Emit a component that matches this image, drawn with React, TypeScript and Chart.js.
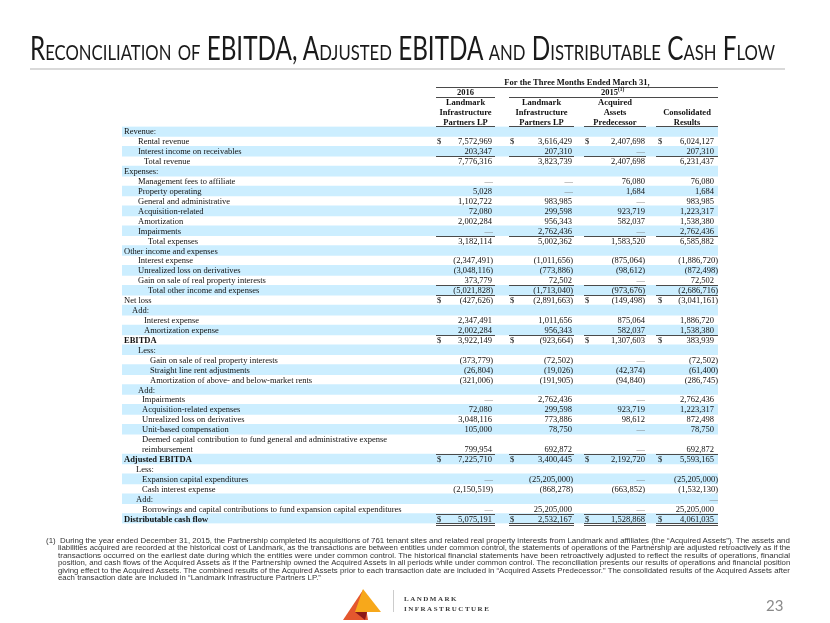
import React, { useEffect, useLayoutEffect, useRef } from "react";
import { Chart, registerables } from "chart.js";

Chart.register(...registerables);

// ---------------- data ----------------
const rowLabels: string[] = [
  "Revenue:",
  "Rental revenue",
  "Interest income on receivables",
  "Total revenue",
  "Expenses:",
  "Management fees to affiliate",
  "Property operating",
  "General and administrative",
  "Acquisition-related",
  "Amortization",
  "Impairments",
  "Total expenses",
  "Other income and expenses",
  "Interest expense",
  "Unrealized loss on derivatives",
  "Gain on sale of real property interests",
  "Total other income and expenses",
  "Net loss",
  "Add:",
  "Interest expense",
  "Amortization expense",
  "EBITDA",
  "Less:",
  "Gain on sale of real property interests",
  "Straight line rent adjustments",
  "Amortization of above- and below-market rents",
  "Add:",
  "Impairments",
  "Acquisition-related expenses",
  "Unrealized loss on derivatives",
  "Unit-based compensation",
  "Deemed capital contribution to fund general and administrative expense",
  "reimbursement",
  "Adjusted EBITDA",
  "Less:",
  "Expansion capital expenditures",
  "Cash interest expense",
  "Add:",
  "Borrowings and capital contributions to fund expansion capital expenditures",
  "Distributable cash flow",
];

// indent level of each row label
const rowIndent: number[] = [
  0, 3, 3, 5, 0, 3, 3, 3, 3, 3, 3, 6, 0, 3, 3, 3, 6, 0, 1, 5, 5, 0,
  3, 7, 7, 7, 3, 4, 4, 4, 4, 4, 4, 0, 2, 4, 4, 2, 4, 0,
];

const boldRows: number[] = [21, 33, 39];
const dollarRows: number[] = [1, 17, 21, 33, 39];
const continuationRows: number[] = [32];
const underlineRows: number[] = [2, 10, 15, 16, 20, 32, 38];
const doubleUnderlineRows: number[] = [39];

// null = blank cell, 0 = "—"
const lp2016: (number | null)[] = [
  null, 7572969, 203347, 7776316, null, 0, 5028, 1102722, 72080, 2002284, 0, 3182114,
  null, -2347491, -3048116, 373779, -5021828, -427626, null, 2347491, 2002284, 3922149,
  null, -373779, -26804, -321006, null, 0, 72080, 3048116, 105000, null, 799954, 7225710,
  null, 0, -2150519, null, 0, 5075191,
];
const lp2015: (number | null)[] = [
  null, 3616429, 207310, 3823739, null, 0, 0, 983985, 299598, 956343, 2762436, 5002362,
  null, -1011656, -773886, 72502, -1713040, -2891663, null, 1011656, 956343, -923664,
  null, -72502, -19026, -191905, null, 2762436, 299598, 773886, 78750, null, 692872, 3400445,
  null, -25205000, -868278, null, 25205000, 2532167,
];
const predecessor2015: (number | null)[] = [
  null, 2407698, 0, 2407698, null, 76080, 1684, 0, 923719, 582037, 0, 1583520,
  null, -875064, -98612, 0, -973676, -149498, null, 875064, 582037, 1307603,
  null, 0, -42374, -94840, null, 0, 923719, 98612, 0, null, 0, 2192720,
  null, 0, -663852, null, 0, 1528868,
];
const consolidated2015: (number | null)[] = [
  null, 6024127, 207310, 6231437, null, 76080, 1684, 983985, 1223317, 1538380, 2762436, 6585882,
  null, -1886720, -872498, 72502, -2686716, -3041161, null, 1886720, 1538380, 383939,
  null, -72502, -61400, -286745, null, 2762436, 1223317, 872498, 78750, null, 692872, 5593165,
  null, -25205000, -1532130, 0, 25205000, 4061035,
];

const columnHeaders: string[][] = [
  ["Landmark", "Infrastructure", "Partners LP"],
  ["Landmark", "Infrastructure", "Partners LP"],
  ["Acquired", "Assets", "Predecessor"],
  ["", "Consolidated", "Results"],
];
const periodHeader = "For the Three Months Ended March 31,";
const yearHeaders: string[] = ["2016", "2015"];

const titleText = "Reconciliation of EBITDA, Adjusted EBITDA and Distributable Cash Flow";
const noteLines: string[] = [
  "(1)  During the year ended December 31, 2015, the Partnership completed its acquisitions of 761 tenant sites and related real property interests from Landmark and affiliates (the \u201cAcquired Assets\u201d). The assets and",
  "liabilities acquired are recorded at the historical cost of Landmark, as the transactions are between entities under common control, the statements of operations of the Partnership are adjusted retroactively as if the",
  "transactions occurred on the earliest date during which the entities were under common control. The historical financial statements have been retroactively adjusted to reflect the results of operations, financial",
  "position, and cash flows of the Acquired Assets as if the Partnership owned the Acquired Assets in all periods while under common control. The reconciliation presents our results of operations and financial position",
  "giving effect to the Acquired Assets. The combined results of the Acquired Assets prior to each transaction date are included in \u201cAcquired Assets Predecessor.\u201d The consolidated results of the Acquired Assets after",
  "each transaction date are included in \u201cLandmark Infrastructure Partners LP.\u201d",
];

// ---------------- layout / style ----------------
const W = 830;
const H = 623;
const TABLE_LEFT = 122;
const TABLE_RIGHT = 718;
const TABLE_TOP = 126.5;
const ROW_H = 9.925;
const TABLE_BOTTOM = TABLE_TOP + ROW_H * rowLabels.length;
const INDENT_X = [124, 132, 136, 138, 142, 144, 148, 150];
const COLS = [
  { left: 436, right: 495, num: 492, neg: 493, dollar: 437 },
  { left: 509, right: 574, num: 572, neg: 573, dollar: 510 },
  { left: 584, right: 646, num: 645, neg: 645, dollar: 585 },
  { left: 656, right: 718, num: 714, neg: 718, dollar: 658 },
];
const SHADE = "#CCEEFF";
const TEXT = "#111111";
const RULE = "#4a4a4a";
const SERIF = '"Liberation Serif", "Times New Roman", serif';
const FS = 8.5;

const columns = [lp2016, lp2015, predecessor2015, consolidated2015];

function logicalIndex(i: number) {
  return i - continuationRows.filter((c) => c <= i).length;
}

function fmt(v: number) {
  const s = Math.abs(v).toLocaleString("en-US");
  return v < 0 ? `(${s})` : s;
}

const tablePlugin = {
  id: "tableText",
  afterDatasetsDraw(chart: any) {
    const { ctx, scales } = chart;
    const xs = scales.x;
    const ys = scales.y;
    const X = (v: number) => xs.getPixelForValue(v);
    const Y = (i: number) => ys.getPixelForValue(i);
    const half = (Y(1) - Y(0)) / 2;
    const base = (i: number) => Y(i) + 3;

    ctx.save();
    ctx.textBaseline = "alphabetic";
    ctx.fillStyle = TEXT;

    const hline = (x1: number, x2: number, y: number) => {
      const yy = Math.round(y) + 0.5;
      ctx.beginPath();
      ctx.moveTo(X(x1), yy);
      ctx.lineTo(X(x2), yy);
      ctx.stroke();
    };
    ctx.strokeStyle = RULE;
    ctx.lineWidth = 1;

    // ---- header ----
    ctx.font = `bold ${FS}px ${SERIF}`;
    ctx.textAlign = "center";
    ctx.fillText(periodHeader, X((COLS[0].left + COLS[3].right) / 2), base(-5));
    hline(COLS[0].left, COLS[3].right, Y(-5) + half);
    ctx.fillText(yearHeaders[0], X((COLS[0].left + COLS[0].right) / 2), base(-4));
    const c2015 = X((COLS[1].left + COLS[3].right) / 2);
    const w2015 = ctx.measureText(yearHeaders[1]).width;
    ctx.fillText(yearHeaders[1], c2015 - 4, base(-4));
    ctx.font = `bold 5.5px ${SERIF}`;
    ctx.textAlign = "left";
    ctx.fillText("(1)", c2015 - 4 + w2015 / 2, base(-4) - 3.5);
    hline(COLS[0].left, COLS[0].right, Y(-4) + half);
    hline(COLS[1].left, COLS[3].right, Y(-4) + half);
    ctx.font = `bold ${FS}px ${SERIF}`;
    ctx.textAlign = "center";
    columnHeaders.forEach((lines, c) => {
      const cx = X((COLS[c].left + COLS[c].right) / 2);
      lines.forEach((t, k) => {
        if (t) ctx.fillText(t, cx, base(-3 + k));
      });
      hline(COLS[c].left, COLS[c].right, Y(-1) + half);
    });

    // ---- rows ----
    rowLabels.forEach((label, i) => {
      const bold = boldRows.includes(i);
      ctx.font = `${bold ? "bold " : ""}${FS}px ${SERIF}`;
      ctx.fillStyle = TEXT;
      ctx.textAlign = "left";
      ctx.fillText(label, X(INDENT_X[rowIndent[i]]), base(i));

      ctx.font = `${FS}px ${SERIF}`;
      columns.forEach((col, c) => {
        const v = col[i];
        if (v === null || v === undefined) return;
        const cd = COLS[c];
        if (dollarRows.includes(i)) {
          ctx.textAlign = "left";
          ctx.fillStyle = TEXT;
          ctx.fillText("$", X(cd.dollar), base(i));
        }
        ctx.textAlign = "right";
        if (v === 0) {
          ctx.fillStyle = "#7a7a7a";
          ctx.fillText("\u2014", X(cd.neg), base(i));
        } else {
          ctx.fillStyle = TEXT;
          ctx.fillText(fmt(v), X(v < 0 ? cd.neg : cd.num), base(i));
        }
      });
    });

    // ---- rules ----
    underlineRows.forEach((i) => {
      COLS.forEach((cd) => hline(cd.left, cd.right, Y(i) + half));
    });
    doubleUnderlineRows.forEach((i) => {
      COLS.forEach((cd) => {
        hline(cd.left, cd.right, Y(i) + half - 1);
        hline(cd.left, cd.right, Y(i) + half + 1);
      });
    });
    ctx.restore();
  },
};

export default function App() {
  const canvasRef = useRef<HTMLCanvasElement>(null);
  const titleRef = useRef<HTMLDivElement>(null);
  const noteRefs = useRef<(HTMLDivElement | null)[]>([]);

  useLayoutEffect(() => {
    const t = titleRef.current;
    if (t) t.style.transform = `scaleX(${745 / t.offsetWidth})`;
    const widths = [744, 732, 732, 732, 732, 0];
    let last = 1;
    noteLines.forEach((_, i) => {
      const el = noteRefs.current[i];
      if (!el) return;
      const s = widths[i] ? widths[i] / el.offsetWidth : last;
      el.style.transform = `scaleX(${s})`;
      last = s;
    });
  }, []);

  useEffect(() => {
    const canvas = canvasRef.current;
    if (!canvas) return;
    const shaded = rowLabels.map((_, i) =>
      logicalIndex(i) % 2 === 0 ? [TABLE_LEFT, TABLE_RIGHT] : null
    );
    const chart = new Chart(canvas, {
      type: "bar",
      data: {
        labels: rowLabels,
        datasets: [
          {
            data: shaded as any,
            backgroundColor: SHADE,
            borderWidth: 0,
            barPercentage: 1,
            categoryPercentage: 1,
            borderSkipped: false,
          },
        ],
      },
      options: {
        indexAxis: "y",
        animation: false,
        responsive: false,
        events: [],
        layout: {
          padding: {
            left: TABLE_LEFT,
            right: W - TABLE_RIGHT,
            top: TABLE_TOP,
            bottom: H - TABLE_BOTTOM,
          },
        },
        plugins: { legend: { display: false }, tooltip: { enabled: false } },
        scales: {
          x: { type: "linear", min: TABLE_LEFT, max: TABLE_RIGHT, display: false },
          y: { type: "category", display: false, offset: true, grid: { display: false } },
        },
      },
      plugins: [tablePlugin],
    });
    return () => chart.destroy();
  }, []);

  return (
    <div
      style={{
        position: "absolute",
        left: 0,
        top: 0,
        width: W,
        height: H,
        background: "#ffffff",
        overflow: "hidden",
      }}
    >
      <canvas ref={canvasRef} width={W} height={H} style={{ position: "absolute", left: 0, top: 0 }} />
      <div
        ref={titleRef}
        style={{
          position: "absolute",
          left: 30,
          top: 30,
          whiteSpace: "nowrap",
          fontFamily: 'Lato, "Open Sans", sans-serif',
          fontSize: 32,
          lineHeight: "36px",
          fontVariant: "small-caps",
          color: "#1a1a1a",
          transformOrigin: "left top",
        }}
      >
        {titleText}
      </div>
      <div style={{ position: "absolute", left: 30, top: 68, width: 755, height: 2, background: "#d9d9d9" }} />
      {noteLines.map((t, i) => (
        <div
          key={i}
          ref={(el) => {
            noteRefs.current[i] = el;
          }}
          style={{
            position: "absolute",
            left: i === 0 ? 46 : 58,
            top: 537 + i * 7.4,
            whiteSpace: "pre",
            fontFamily: '"Liberation Sans Narrow", "Liberation Sans", Arial, sans-serif',
            fontSize: 7,
            lineHeight: "8px",
            color: "#333333",
            transformOrigin: "left top",
          }}
        >
          {t}
        </div>
      ))}
      <svg style={{ position: "absolute", left: 0, top: 0 }} width={W} height={H}>
        <polygon points="343,620 363,590 368,620" fill="#E4572E" />
        <polygon points="363,589 355,612 381,612" fill="#F7A81B" />
        <polygon points="355,612 367,612 365,620" fill="#8B1A1A" />
        <line x1="393.5" y1="590" x2="393.5" y2="612" stroke="#cccccc" strokeWidth="1" />
      </svg>
      <div
        style={{
          position: "absolute",
          left: 404,
          top: 594,
          fontFamily: SERIF,
          fontWeight: "bold",
          fontSize: 7,
          lineHeight: "10px",
          letterSpacing: "1.5px",
          color: "#3a3a3a",
          whiteSpace: "nowrap",
        }}
      >
        <div>LANDMARK</div>
        <div>INFRASTRUCTURE</div>
      </div>
      <div
        style={{
          position: "absolute",
          left: 766,
          top: 596,
          fontFamily: 'Lato, "Open Sans", sans-serif',
          fontSize: 15,
          color: "#8a8a8a",
        }}
      >
        23
      </div>
    </div>
  );
}
